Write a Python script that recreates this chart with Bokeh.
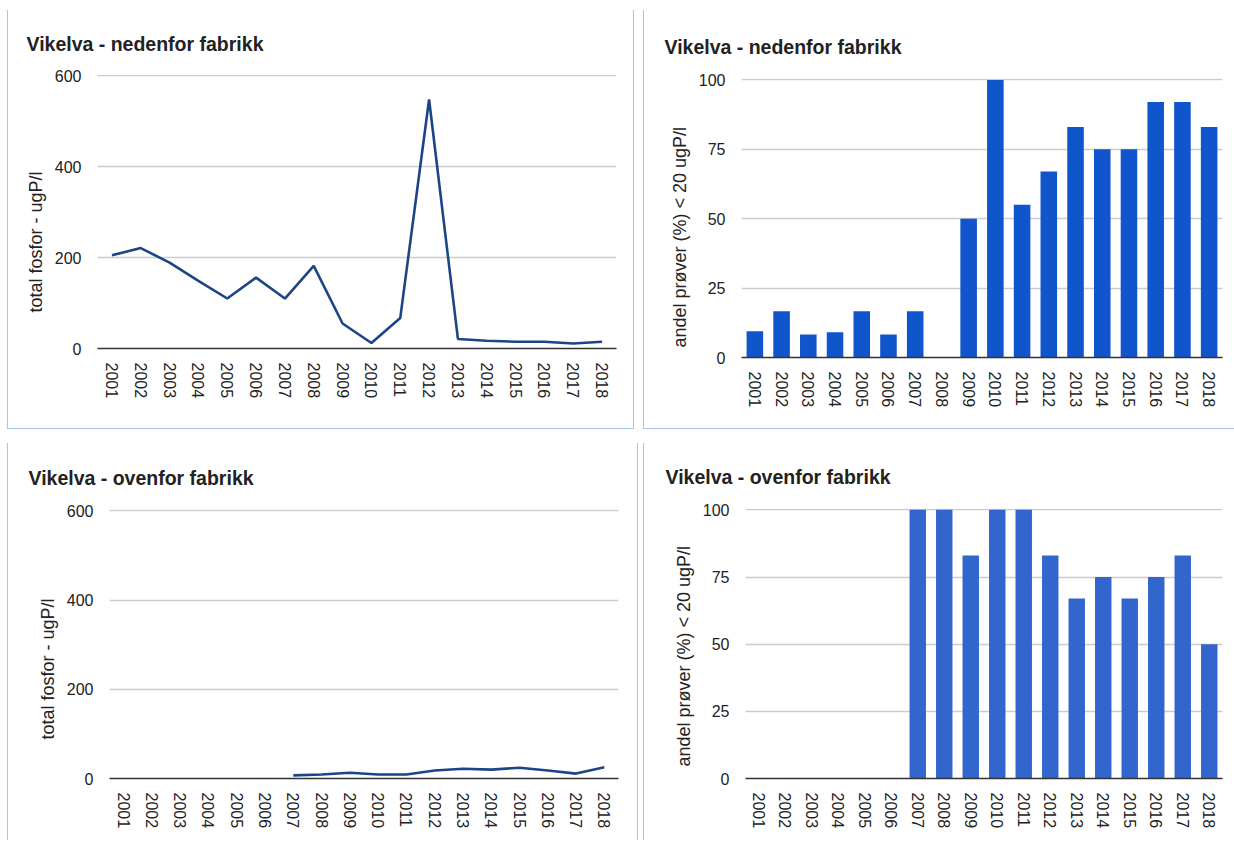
import math
from bokeh.plotting import figure
from bokeh.models import FactorRange, Range1d, FixedTicker, Title, ColumnDataSource
from bokeh.layouts import row, column
from bokeh.embed import file_html
from bokeh.resources import INLINE

years = [str(y) for y in range(2001, 2019)]
tp_nedenfor = [205, 221, 189, 149, 110, 156, 110, 182, 55, 12, 67, 548, 21, 17, 15, 15, 11, 15]
tp_ovenfor = [None] * 6 + [7, 9, 13, 9, 9, 18, 22, 20, 24, 18, 11, 25]
andel_nedenfor = [9.5, 16.7, 8.3, 9.1, 16.7, 8.3, 16.7, None, 50, 100, 55, 67, 83, 75, 75, 92, 92, 83]
andel_ovenfor = [None] * 6 + [100, 100, 83, 100, 100, 83, 67, 75, 67, 75, 83, 50]

title_ned = "Vikelva - nedenfor fabrikk"
title_ove = "Vikelva - ovenfor fabrikk"
ylab_tp = "total fosfor - ugP/l"
ylab_andel = "andel prøver (%) < 20 ugP/l"

FONT = "Liberation Sans"
BORDER = "1px solid #a4c2f4"


def nanify(vals):
    return [float("nan") if v is None else v for v in vals]


def make_fig(title, ylabel, w, h, mbl, mbr, mbt, mbb, yticks, title_off, title_standoff,
             ylab_off, borders):
    top = yticks[-1]
    p = figure(x_range=FactorRange(*years, range_padding=0),
               y_range=Range1d(0, top * 1.005),
               width=w, height=h, output_backend="svg", toolbar_location=None,
               min_border_left=mbl, min_border_right=mbr,
               min_border_top=mbt, min_border_bottom=mbb,
               background_fill_color="white", border_fill_color="white")
    p.outline_line_color = None
    p.title.text = title
    p.title.align = "left"
    p.title.offset = title_off
    p.title.text_font = FONT
    p.title.text_font_size = "19.5px"
    p.title.text_font_style = "bold"
    p.title.text_color = "#222222"
    p.title.standoff = title_standoff

    p.xgrid.grid_line_color = None
    p.ygrid.grid_line_color = "#cccccc"
    p.ygrid.grid_line_width = 1.3
    p.yaxis.ticker = FixedTicker(ticks=yticks)
    p.yaxis.axis_line_color = None
    p.yaxis.major_tick_line_color = None
    p.yaxis.minor_tick_line_color = None
    p.yaxis.major_label_standoff = 10
    p.xaxis.axis_line_color = "#333333"
    p.xaxis.axis_line_width = 1.3
    p.xaxis.major_tick_line_color = None
    p.xaxis.minor_tick_line_color = None
    p.xaxis.major_label_orientation = "vertical"
    p.xaxis.major_label_standoff = 8
    for ax in (p.xaxis, p.yaxis):
        ax.major_label_text_font = FONT
        ax.major_label_text_font_size = "16px"
        ax.major_label_text_color = "#222222"

    yt = Title(text=ylabel, align="left", offset=ylab_off,
               text_font=FONT, text_font_size="18px", text_font_style="normal",
               text_color="#222222", standoff=12)
    p.add_layout(yt, "left")
    p.styles = borders
    return p


# top-left: frame x 96..615, y 75..348 (page origin 0,0; layout shifted 7px right, 10px down)
p1 = make_fig(title_ned, ylab_tp, 627, 419, 89, 19, 64, 81, [0, 200, 400, 600], -71, 39, 36,
              {"border-left": BORDER, "border-right": BORDER, "border-bottom": BORDER})
src1 = ColumnDataSource(dict(x=years, y=nanify(tp_nedenfor)))
p1.line("x", "y", source=src1, line_color="#1c4587", line_width=2.6)

# top-right: frame x 740..1221, y 79..357
p2 = make_fig(title_ned, ylab_andel, 591, 419, 97, 13, 68, 72, [0, 25, 50, 75, 100], -77, 42, 10,
              {"border-left": BORDER, "border-bottom": BORDER})
src2 = ColumnDataSource(dict(x=years, top=nanify(andel_nedenfor)))
p2.vbar(x="x", top="top", bottom=0, width=0.62, source=src2, fill_color="#1155cc", line_color=None)

# bottom-left: frame x 108..617, y 510..778
p3 = make_fig(title_ove, ylab_tp, 631, 397, 101, 21, 66, 62, [0, 200, 400, 600], -81, 41, 39,
              {"border-left": BORDER, "border-right": BORDER})
src3 = ColumnDataSource(dict(x=years, y=nanify(tp_ovenfor)))
p3.line("x", "y", source=src3, line_color="#1c4587", line_width=2.6)

# bottom-right: frame x 744..1221, y 508..778
p4 = make_fig(title_ove, ylab_andel, 591, 397, 101, 13, 65, 62, [0, 25, 50, 75, 100], -80, 41, 12,
              {"border-left": BORDER})
src4 = ColumnDataSource(dict(x=years, top=nanify(andel_ovenfor)))
p4.vbar(x="x", top="top", bottom=0, width=0.62, source=src4, fill_color="#3366cc", line_color=None)

layout = column(row(column(p1), column(p2), spacing=9),
                row(column(p3), column(p4), spacing=5),
                spacing=14, margin=(10, 0, 0, 7))

open("out.html", "w").write(file_html(layout, INLINE))
